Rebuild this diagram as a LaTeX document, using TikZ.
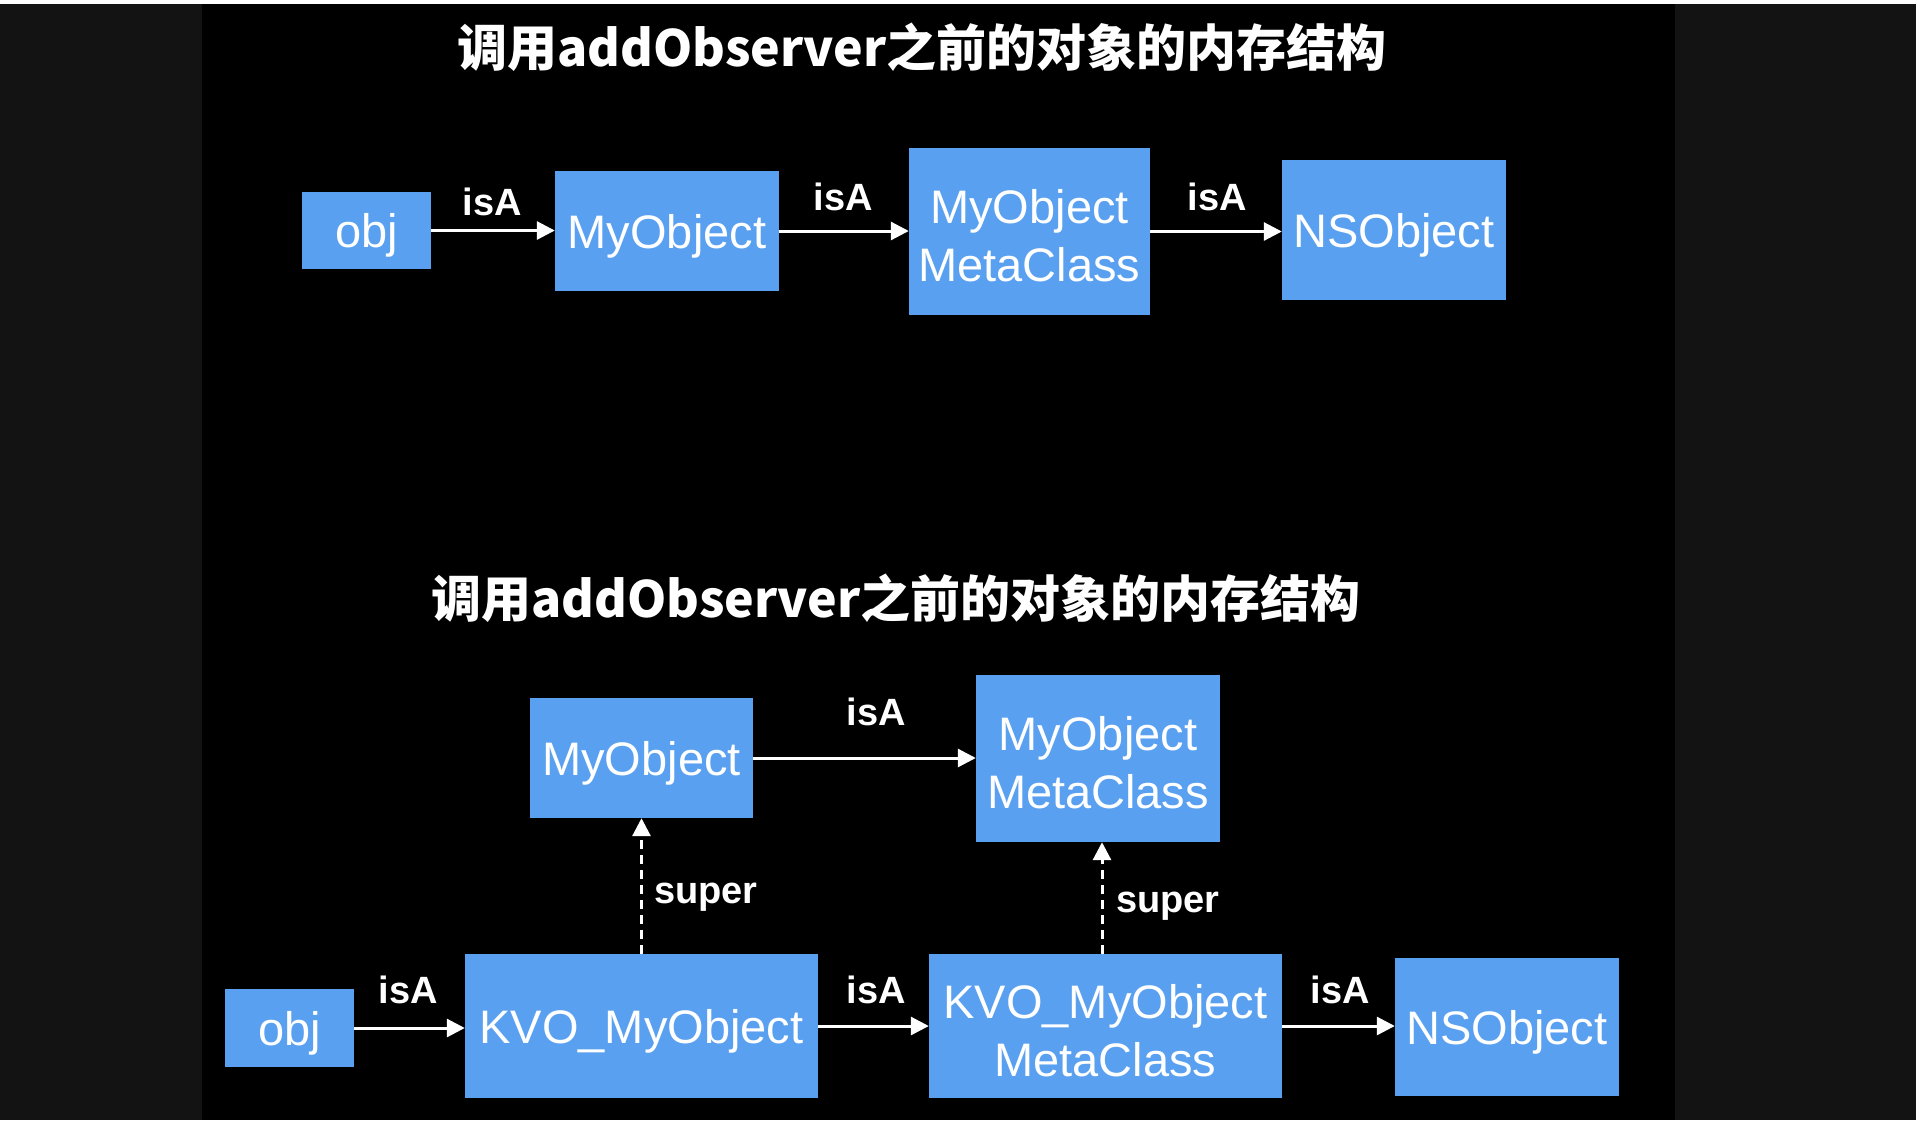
\documentclass[tikz,border=0pt]{standalone}
\usepackage{fontspec}
\setmainfont{Liberation Sans}
\newfontfamily\cjk{Noto Sans CJK SC}
\usetikzlibrary{arrows.meta}
\definecolor{boxblue}{RGB}{90,160,240}
\definecolor{sidegray}{RGB}{19,19,19}
\begin{document}
\begin{tikzpicture}[x=1pt,y=-1pt,
  cls/.style={rectangle,fill=boxblue,text=white,font=\fontsize{47}{58}\selectfont,align=center,inner sep=0pt,text depth=0pt},
  cls2/.style={cls,text height=100pt},
  lbl/.style={text=white,font=\fontsize{38}{44}\selectfont\bfseries,inner sep=0pt},
  ttl/.style={text=white,font=\cjk\bfseries\fontsize{50}{60}\selectfont,inner sep=0pt},
  isa/.style={draw=white,line width=3pt,-{Triangle[length=18pt,width=18pt]}},
  sup/.style={isa,dash pattern=on 9pt off 6pt}]
\useasboundingbox (0,0) rectangle (1920,1120);
\fill[white] (0,0) rectangle (1920,1120);
\fill[sidegray] (0,4) rectangle (1916,1120);
\fill[black] (202,4) rectangle (1675,1120);

\node[ttl] (t1) at (922,47) {调用addObserver之前的对象的内存结构};
\node[ttl] (t2) at (896,598) {调用addObserver之前的对象的内存结构};

% row 1
\node[cls,minimum width=129pt,minimum height=77pt] (obj1) at (366.5,230.5) {obj};
\node[cls,minimum width=224pt,minimum height=120pt] (my1) at (667,231) {MyObject};
\node[cls2,minimum width=241pt,minimum height=167pt] (meta1) at (1029.5,231.5) {MyObject\\MetaClass};
\node[cls,minimum width=224pt,minimum height=140pt] (ns1) at (1394,230) {NSObject};

\draw[isa] (obj1.east) -- (obj1.east -| my1.west);
\draw[isa] (my1.east) -- (my1.east -| meta1.west);
\draw[isa] (meta1.east) -- (meta1.east -| ns1.west);
\node[lbl] (l1) at (492,202) {isA};
\node[lbl] (l2) at (843,197) {isA};
\node[lbl] (l3) at (1217,197) {isA};

% row 2 top
\node[cls,minimum width=223pt,minimum height=120pt] (my2) at (641.5,758) {MyObject};
\node[cls2,minimum width=244pt,minimum height=167pt] (meta2) at (1098,758.5) {MyObject\\MetaClass};
\draw[isa] (my2.east) -- (my2.east -| meta2.west);
\node[lbl] (l4) at (876,712) {isA};

% row 2 bottom
\node[cls,minimum width=129pt,minimum height=78pt] (obj2) at (289.5,1028) {obj};
\node[cls,minimum width=353pt,minimum height=144pt] (kvo) at (641.5,1026) {KVO\_MyObject};
\node[cls2,minimum width=353pt,minimum height=144pt] (kvom) at (1105.5,1026) {KVO\_MyObject\\MetaClass};
\node[cls,minimum width=224pt,minimum height=138pt] (ns2) at (1507,1027) {NSObject};

\draw[isa] (obj2.east) -- (obj2.east -| kvo.west);
\draw[isa] (kvo.east) -- (kvo.east -| kvom.west);
\draw[isa] (kvom.east) -- (kvom.east -| ns2.west);
\node[lbl] (l5) at (408,990) {isA};
\node[lbl] (l6) at (876,990) {isA};
\node[lbl] (l7) at (1340,990) {isA};

% super
\draw[sup] (kvo.north) -- (my2.south);
\draw[sup] ([xshift=-3.5pt]kvom.north) -- ([xshift=-3.5pt]kvom.north |- meta2.south);
\node[lbl] (s1) at (706,897) {super};
\node[lbl] (s2) at (1168,906) {super};
\end{tikzpicture}
\end{document}
